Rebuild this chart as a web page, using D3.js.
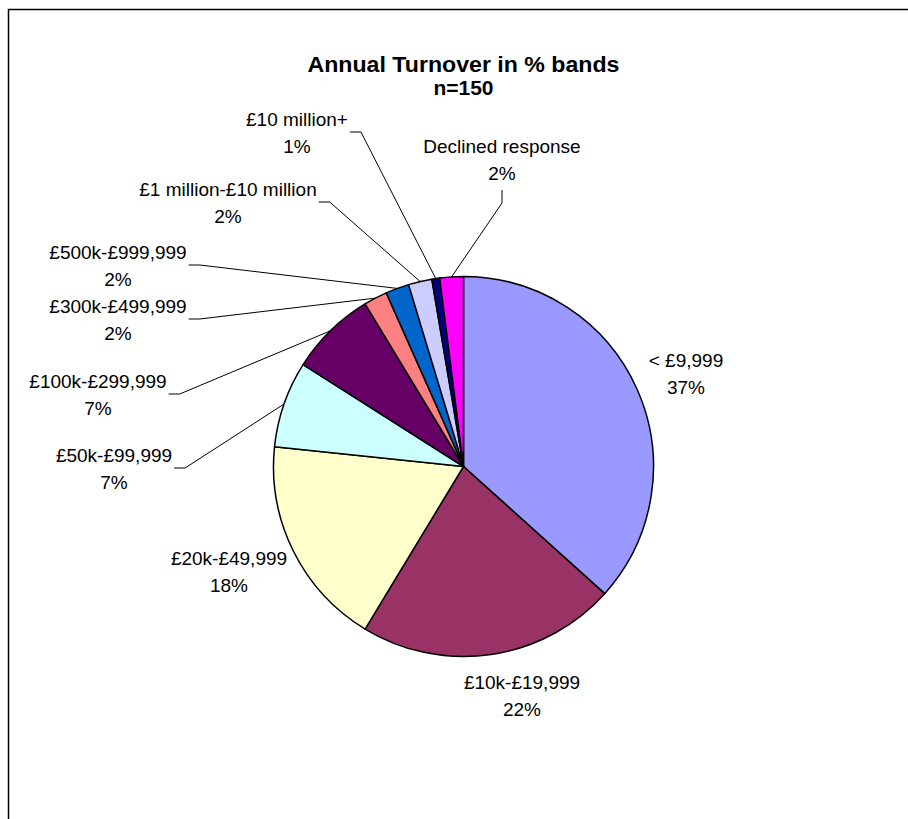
<!DOCTYPE html>
<html>
<head>
<meta charset="utf-8">
<script src="https://cdn.jsdelivr.net/npm/d3@7/dist/d3.min.js"></script>
<style>
  body { margin: 0; background: #fff; }
  text { font-family: Arial, "Liberation Sans", sans-serif; fill: #000; }
</style>
</head>
<body>
<svg id="chart" width="908" height="819"></svg>
<script>
// data (counts out of n=150)
var categories = ["< £9,999", "£10k-£19,999", "£20k-£49,999", "£50k-£99,999", "£100k-£299,999",
  "£300k-£499,999", "£500k-£999,999", "£1 million-£10 million", "£10 million+", "Declined response"];
var counts = [55, 33, 27, 11, 11, 3, 3, 3, 1, 3];
var percentLabels = ["37%", "22%", "18%", "7%", "7%", "2%", "2%", "2%", "1%", "2%"];
var colors = ["#9999FF", "#993366", "#FFFFCC", "#CCFFFF", "#660066",
  "#FF8080", "#0066CC", "#CCCCFF", "#000080", "#FF00FF"];

// label placement (centre of the two-line label) and where the leader attaches
var labelPos = [
  { x: 686, y: 373, leader: null },
  { x: 522, y: 695, leader: null },
  { x: 229, y: 571, leader: null },
  { x: 114, y: 468, leader: "right" },
  { x: 98, y: 394, leader: "right" },
  { x: 118, y: 319, leader: "right" },
  { x: 118, y: 265, leader: "right" },
  { x: 228, y: 202, leader: "right" },
  { x: 297, y: 132, leader: "right" },
  { x: 502, y: 159, leader: "bottom" }
];

var svg = d3.select("#chart"),
  cx = 463.5, cy = 466.5, radius = 190;

// chart frame (runs off the right and bottom of the picture)
svg.append("rect")
  .attr("x", 8.5).attr("y", 9.5)
  .attr("width", 1000).attr("height", 1000)
  .attr("fill", "none").attr("stroke", "#000").attr("stroke-width", 1.5);

svg.append("text").attr("x", cx).attr("y", 72)
  .attr("text-anchor", "middle").attr("font-weight", "bold").attr("font-size", 22)
  .attr("textLength", 312).attr("lengthAdjust", "spacingAndGlyphs")
  .text("Annual Turnover in % bands");
svg.append("text").attr("x", cx).attr("y", 95)
  .attr("text-anchor", "middle").attr("font-weight", "bold").attr("font-size", 21)
  .text("n=150");

var pie = d3.pie().sort(null).value(function (d) { return d; });
var arcs = pie(counts);
var arc = d3.arc().innerRadius(0).outerRadius(radius);

var g = svg.append("g").attr("transform", "translate(" + cx + "," + cy + ")");

g.selectAll("path")
  .data(arcs)
  .enter().append("path")
  .attr("d", arc)
  .attr("fill", function (d, i) { return colors[i]; })
  .attr("stroke", "#000")
  .attr("stroke-width", 1.5)
  .attr("stroke-linejoin", "round");

var fontSize = 19, lineGap = 27;

arcs.forEach(function (d, i) {
  var p = labelPos[i];
  var lab = svg.append("text")
    .attr("text-anchor", "middle")
    .attr("font-size", fontSize);
  lab.append("tspan").attr("x", p.x).attr("y", p.y - lineGap / 2 + 7).text(categories[i]);
  lab.append("tspan").attr("x", p.x).attr("y", p.y + lineGap / 2 + 7).text(percentLabels[i]);

  if (!p.leader) return;

  // leader goes to the middle of the slice's outer edge
  var mid = (d.startAngle + d.endAngle) / 2;
  var ex = cx + radius * Math.sin(mid),
    ey = cy - radius * Math.cos(mid);
  var pts;
  if (p.leader == "right") {
    var w = lab.node().getBBox().width;
    var sx = p.x + w / 2 + 2;
    pts = [[sx, p.y], [sx + 11, p.y], [ex, ey]];
  } else {
    var sy = p.y + lineGap + 4;
    pts = [[p.x, sy], [p.x, sy + 13], [ex, ey]];
  }
  svg.append("path")
    .attr("d", d3.line()(pts))
    .attr("fill", "none")
    .attr("stroke", "#000")
    .attr("stroke-width", 1);
});
</script>
</body>
</html>
